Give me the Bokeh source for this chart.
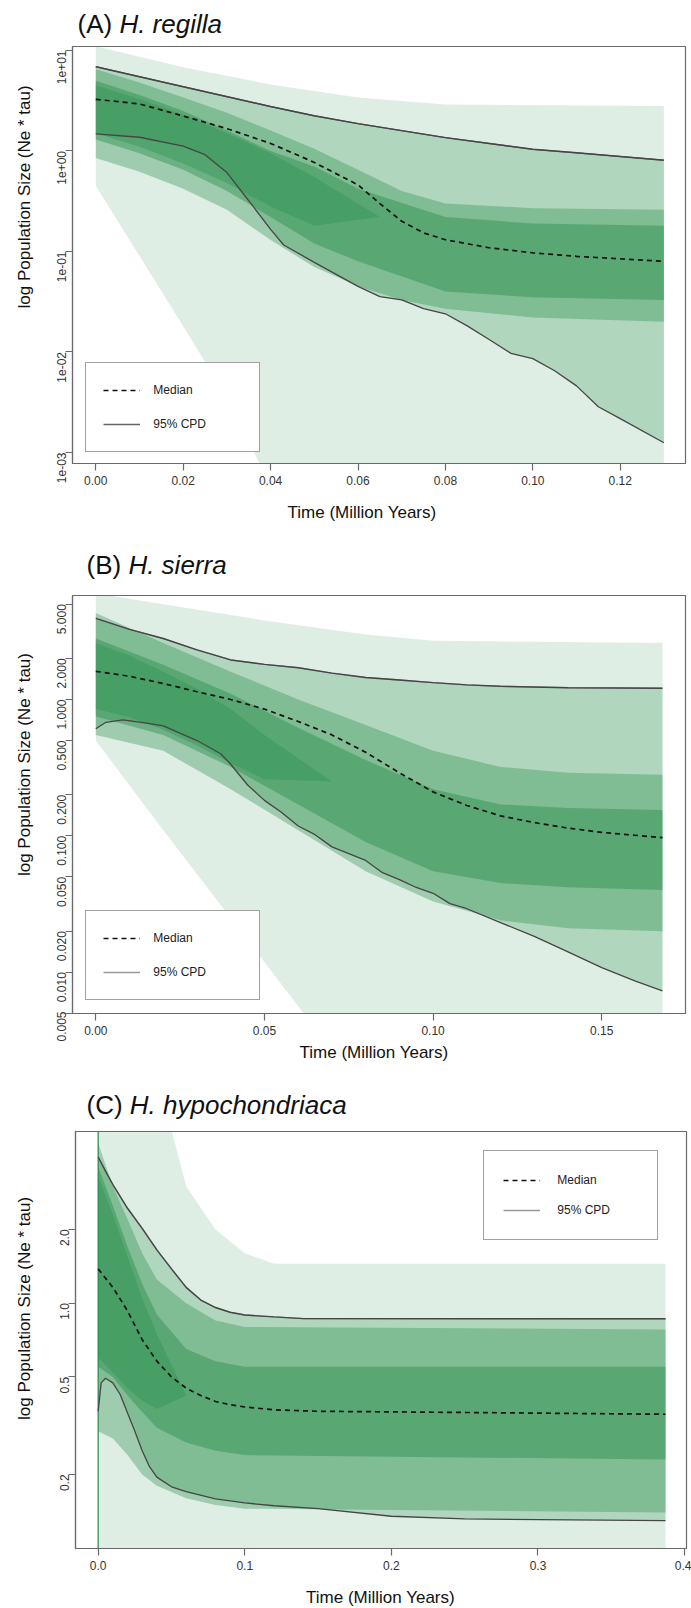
import math
from bokeh.plotting import figure
from bokeh.models import FixedTicker, Range1d, Legend, LegendItem
from bokeh.layouts import column, row
from bokeh.embed import file_html
from bokeh.resources import INLINE
from bokeh.core.properties import value

# ---------------- data ----------------
# Panel A: H. regilla
A_med_t = [0, 0.01, 0.02, 0.03, 0.04, 0.05, 0.06, 0.065, 0.07, 0.075, 0.08, 0.09, 0.10, 0.11, 0.13]
A_med_v = [3.27, 2.94, 2.23, 1.67, 1.19, 0.77, 0.46, 0.30, 0.20, 0.153, 0.131, 0.109, 0.097, 0.0895, 0.080]
A_hi_t = [0, 0.02, 0.04, 0.05, 0.06, 0.08, 0.10, 0.11, 0.13]
A_hi_v = [6.9, 4.36, 2.77, 2.24, 1.87, 1.36, 1.04, 0.96, 0.81]
A_lo_t = [0, 0.01, 0.02, 0.025, 0.03, 0.035, 0.04, 0.043, 0.05, 0.06, 0.065, 0.07, 0.075, 0.08,
          0.085, 0.09, 0.095, 0.10, 0.105, 0.11, 0.115, 0.12, 0.13]
A_lo_v = [1.48, 1.37, 1.12, 0.92, 0.61, 0.32, 0.166, 0.116, 0.078, 0.045, 0.0356, 0.033, 0.027, 0.024,
          0.0182, 0.0133, 0.0097, 0.0086, 0.0065, 0.0046, 0.00285, 0.00217, 0.00125]
A_out_hi_t = [0, 0.02, 0.04, 0.06, 0.08, 0.13]
A_out_hi_v = [11.0, 6.8, 4.6, 3.4, 2.9, 2.8]
A_out_lo_t = [0, 0.01, 0.02, 0.03, 0.038, 0.13]
A_out_lo_v = [0.45, 0.09, 0.018, 0.0035, 0.0007, 0.0007]
A_core_t = [0, 0.01, 0.02, 0.03, 0.04, 0.05, 0.06, 0.07, 0.08, 0.10, 0.13]
A_core_hi = [6.5, 4.8, 3.4, 2.4, 1.6, 1.05, 0.65, 0.40, 0.30, 0.27, 0.26]
A_core_lo = [0.85, 0.62, 0.42, 0.26, 0.13, 0.07, 0.045, 0.033, 0.027, 0.022, 0.020]
A_inner_t = [0, 0.01, 0.02, 0.03, 0.04, 0.05, 0.06, 0.08, 0.10, 0.13]
A_inner_hi = [5.0, 3.6, 2.5, 1.6, 1.0, 0.70, 0.42, 0.22, 0.19, 0.18]
A_inner_lo = [1.3, 0.95, 0.65, 0.40, 0.22, 0.12, 0.08, 0.04, 0.035, 0.033]
A_peak_t = [0, 0.01, 0.02, 0.03, 0.04, 0.05, 0.065]
A_peak_hi = [4.5, 3.3, 2.3, 1.5, 0.95, 0.55, 0.22]
A_peak_lo = [1.5, 1.1, 0.75, 0.48, 0.28, 0.18, 0.22]

# Panel B: H. sierra
B_med_t = [0, 0.01, 0.02, 0.03, 0.04, 0.05, 0.06, 0.07, 0.08, 0.09, 0.10, 0.11, 0.12, 0.13, 0.14, 0.15, 0.168]
B_med_v = [1.61, 1.48, 1.31, 1.14, 1.0, 0.85, 0.69, 0.55, 0.41, 0.29, 0.21, 0.167, 0.14, 0.125, 0.114, 0.106, 0.097]
B_hi_t = [0, 0.01, 0.02, 0.03, 0.04, 0.05, 0.06, 0.07, 0.08, 0.09, 0.10, 0.11, 0.12, 0.14, 0.168]
B_hi_v = [3.94, 3.27, 2.80, 2.31, 1.95, 1.81, 1.71, 1.56, 1.45, 1.39, 1.33, 1.28, 1.25, 1.22, 1.21]
B_lo_t = [0, 0.003, 0.008, 0.015, 0.02, 0.03, 0.037, 0.04, 0.045, 0.05, 0.055, 0.06, 0.065, 0.07, 0.08,
          0.085, 0.09, 0.095, 0.10, 0.105, 0.11, 0.12, 0.13, 0.14, 0.15, 0.16, 0.168]
B_lo_v = [0.61, 0.68, 0.71, 0.67, 0.64, 0.50, 0.40, 0.335, 0.236, 0.182, 0.149, 0.118, 0.102, 0.083, 0.066,
          0.0537, 0.0478, 0.0418, 0.0379, 0.0318, 0.0292, 0.0231, 0.0183, 0.0141, 0.0108, 0.0086, 0.0073]
B_out_hi_t = [0, 0.02, 0.05, 0.08, 0.10, 0.168]
B_out_hi_v = [6.0, 5.0, 3.8, 3.0, 2.7, 2.6]
B_out_lo_t = [0, 0.02, 0.04, 0.063, 0.168]
B_out_lo_v = [0.5, 0.11, 0.025, 0.0045, 0.0045]
B_core_t = [0, 0.02, 0.04, 0.06, 0.08, 0.10, 0.12, 0.14, 0.168]
B_core_hi = [4.3, 2.6, 1.6, 1.0, 0.65, 0.42, 0.32, 0.29, 0.28]
B_core_lo = [0.55, 0.42, 0.22, 0.11, 0.055, 0.033, 0.024, 0.021, 0.020]
B_inner_hi = [2.8, 1.8, 1.1, 0.62, 0.36, 0.22, 0.17, 0.16, 0.155]
B_inner_lo = [0.75, 0.55, 0.32, 0.17, 0.09, 0.055, 0.045, 0.042, 0.040]
B_peak_t = [0, 0.01, 0.02, 0.03, 0.04, 0.05, 0.07]
B_peak_hi = [2.6, 2.1, 1.6, 1.2, 0.85, 0.55, 0.25]
B_peak_lo = [0.85, 0.74, 0.6, 0.46, 0.34, 0.26, 0.25]

# Panel C: H. hypochondriaca
C_med_t = [0, 0.01, 0.02, 0.03, 0.04, 0.05, 0.06, 0.07, 0.08, 0.09, 0.10, 0.12, 0.15, 0.25, 0.387]
C_med_v = [1.38, 1.16, 0.93, 0.71, 0.58, 0.50, 0.45, 0.42, 0.397, 0.385, 0.377, 0.367, 0.362, 0.358, 0.352]
C_hi_t = [0, 0.005, 0.01, 0.02, 0.03, 0.04, 0.05, 0.06, 0.07, 0.08, 0.09, 0.10, 0.12, 0.14, 0.387]
C_hi_v = [3.95, 3.46, 3.05, 2.44, 2.02, 1.65, 1.38, 1.16, 1.03, 0.96, 0.918, 0.895, 0.879, 0.865, 0.864]
C_lo_t = [0, 0.002, 0.005, 0.01, 0.015, 0.02, 0.025, 0.03, 0.035, 0.04, 0.05, 0.06, 0.08, 0.10, 0.12,
          0.15, 0.2, 0.25, 0.387]
C_lo_v = [0.362, 0.473, 0.494, 0.473, 0.424, 0.356, 0.30, 0.25, 0.215, 0.195, 0.178, 0.17, 0.159, 0.153,
          0.149, 0.145, 0.135, 0.1316, 0.1296]
C_out_hi_t = [0, 0.05, 0.06, 0.08, 0.10, 0.12, 0.387]
C_out_hi_v = [5.1, 5.1, 3.0, 2.0, 1.6, 1.45, 1.45]
C_out_lo_t = [0, 0.387]
C_out_lo_v = [0.095, 0.095]
C_core_t = [0, 0.01, 0.02, 0.03, 0.04, 0.06, 0.08, 0.10, 0.387]
C_core_hi = [4.5, 3.0, 2.2, 1.6, 1.25, 1.0, 0.85, 0.80, 0.78]
C_core_lo = [0.30, 0.28, 0.24, 0.20, 0.18, 0.16, 0.15, 0.145, 0.14]
C_inner_hi = [3.6, 2.5, 1.7, 1.2, 0.9, 0.65, 0.58, 0.55, 0.55]
C_inner_lo = [0.55, 0.50, 0.42, 0.36, 0.31, 0.27, 0.25, 0.24, 0.23]
C_peak_t = [0, 0.01, 0.02, 0.03, 0.04, 0.06]
C_peak_hi = [3.3, 2.3, 1.55, 1.05, 0.75, 0.42]
C_peak_lo = [0.6, 0.52, 0.45, 0.4, 0.37, 0.42]
C_start_t = [0, 0]
C_start_v = [0.09, 5.2]

A_xticks = [0.0, 0.02, 0.04, 0.06, 0.08, 0.10, 0.12]
A_xlabels = ["0.00", "0.02", "0.04", "0.06", "0.08", "0.10", "0.12"]
A_yticks = [0.001, 0.01, 0.1, 1.0, 10.0]
A_ylabels = ["1e-03", "1e-02", "1e-01", "1e+00", "1e+01"]
B_xticks = [0.0, 0.05, 0.10, 0.15]
B_xlabels = ["0.00", "0.05", "0.10", "0.15"]
B_yticks = [0.005, 0.01, 0.02, 0.05, 0.1, 0.2, 0.5, 1.0, 2.0, 5.0]
B_ylabels = ["0.005", "0.010", "0.020", "0.050", "0.100", "0.200", "0.500", "1.000", "2.000", "5.000"]
C_xticks = [0.0, 0.1, 0.2, 0.3, 0.4]
C_xlabels = ["0.0", "0.1", "0.2", "0.3", "0.4"]
C_yticks = [0.2, 0.5, 1.0, 2.0]
C_ylabels = ["0.2", "0.5", "1.0", "2.0"]

FONT = "Liberation Sans"
GREEN = "#1f8a43"
W = 691
YLAB_W = 40


def poly(t_hi, v_hi, t_lo, v_lo):
    return list(t_hi) + list(t_lo)[::-1], list(v_hi) + list(v_lo)[::-1]


def strip(w, h, texts):
    """A bare figure whose frame is the whole canvas, used only to hold texts."""
    s = figure(width=w, height=h, x_range=Range1d(0, w), y_range=Range1d(0, h),
               x_axis_type=None, y_axis_type=None, output_backend="svg",
               toolbar_location=None, title=None, min_border=0,
               min_border_left=0, min_border_right=0, min_border_top=0, min_border_bottom=0)
    s.outline_line_color = None
    s.xgrid.visible = False
    s.ygrid.visible = False
    s.background_fill_color = "white"
    s.border_fill_color = "white"
    for t in texts:
        s.text(x=[t["x"]], y=[t["y"]], text=[t["text"]], text_font=value(FONT),
               text_font_size=value(t["size"]), text_font_style=t.get("style", "normal"),
               text_align=t.get("align", "left"), text_baseline="middle",
               angle=t.get("angle", 0), text_color="#111111")
    return s


def make_main(cfg):
    p = figure(width=W - YLAB_W, height=cfg["h_main"], y_axis_type="log",
               x_range=Range1d(*cfg["xr"]), y_range=Range1d(*cfg["yr"]),
               output_backend="svg", toolbar_location=None, title=None,
               min_border_left=cfg["ml"], min_border_right=cfg["mr"],
               min_border_top=4, min_border_bottom=28)
    p.background_fill_color = "white"
    p.border_fill_color = "white"
    p.xgrid.visible = False
    p.ygrid.visible = False
    p.outline_line_color = "#6a6a6a"
    p.outline_line_width = 1.2

    for (th, vh, tl, vl, a) in cfg["bands"]:
        xs, ys = poly(th, vh, tl, vl)
        p.patch(xs, ys, fill_color=GREEN, fill_alpha=a, line_color=None)
    if "start" in cfg:
        p.line(cfg["start"][0], cfg["start"][1], line_color=GREEN, line_width=1.5, line_alpha=0.8)

    # light copy of the CPD line (only its legend sample is seen), then the dark lines
    r_cpd_leg = p.line(cfg["hi"][0], cfg["hi"][1], line_color=cfg["leg_cpd_color"], line_width=1.3)
    p.line(cfg["hi"][0], cfg["hi"][1], line_color="#454545", line_width=1.4)
    p.line(cfg["lo"][0], cfg["lo"][1], line_color="#454545", line_width=1.3)
    r_med = p.line(cfg["med"][0], cfg["med"][1], line_color="#111111", line_width=1.7, line_dash="5 4")

    p.xaxis.ticker = FixedTicker(ticks=cfg["xticks"])
    p.xaxis.major_label_overrides = dict(zip(cfg["xticks"], cfg["xlabels"]))
    p.yaxis.ticker = FixedTicker(ticks=cfg["yticks"])
    p.yaxis.major_label_overrides = dict(zip(cfg["yticks"], cfg["ylabels"]))
    p.yaxis.major_label_orientation = math.pi / 2
    for ax in (p.xaxis, p.yaxis):
        ax.minor_tick_line_color = None
        ax.major_tick_in = 0
        ax.major_tick_out = 7
        ax.axis_line_color = "#6a6a6a"
        ax.axis_line_width = 1.2
        ax.major_tick_line_color = "#6a6a6a"
        ax.major_tick_line_width = 1.2
        ax.major_label_text_font = FONT
        ax.major_label_text_font_size = "12px"
        ax.major_label_text_color = "#333333"
    p.xaxis.major_label_standoff = 5
    p.yaxis.major_label_standoff = 4

    lg = cfg["leg"]
    legend = Legend(items=[LegendItem(label="Median", renderers=[r_med]),
                           LegendItem(label="95% CPD", renderers=[r_cpd_leg])],
                    location=lg["loc"], orientation="vertical", margin=0,
                    padding=lg["pad"], spacing=lg["sp"], glyph_width=37, glyph_height=20,
                    label_height=20, label_width=lg["lw"], label_standoff=lg["ls"],
                    border_line_color="#444444", border_line_width=1.2,
                    background_fill_color="white", background_fill_alpha=1.0,
                    label_text_font=FONT, label_text_font_size="12px",
                    label_text_color="#222222")
    p.add_layout(legend)
    return p


def make_panel(cfg):
    top = cfg["top"]
    h_title = cfg["frame_top"] - 4 - top
    main_top = top + h_title
    main_bottom = cfg["frame_bottom"] + 28
    cfg["h_main"] = main_bottom - main_top
    h_xlab = cfg["bottom"] - main_bottom

    title = strip(W, h_title, [
        dict(x=cfg["title_x"], y=main_top - cfg["title_y"], text=cfg["tag"], size="26px"),
        dict(x=cfg["title_x2"], y=main_top - cfg["title_y"], text=cfg["species"], size="26px",
             style="italic"),
    ])
    ylab = strip(YLAB_W, cfg["h_main"], [
        dict(x=24, y=main_bottom - cfg["ylab_y"], text="log Population Size (Ne * tau)",
             size="17px", align="center", angle=math.pi / 2),
    ])
    xlab = strip(W, h_xlab, [
        dict(x=cfg["xlab_x"], y=cfg["bottom"] - cfg["xlab_y"], text="Time (Million Years)",
             size="17px", align="center"),
    ])
    main = make_main(cfg)
    return column(title, row(ylab, main, spacing=0), xlab, spacing=0)


cfgA = dict(top=0, bottom=530, frame_top=46, frame_bottom=463, ml=32, mr=6,
            xr=(-0.00533, 0.13494), yr=(10 ** -3.1095, 10 ** 1.0398),
            bands=[(A_out_hi_t, A_out_hi_v, A_out_lo_t, A_out_lo_v, 0.14),
                   (A_hi_t, A_hi_v, A_lo_t, A_lo_v, 0.24),
                   (A_core_t, A_core_hi, A_core_t, A_core_lo, 0.33),
                   (A_inner_t, A_inner_hi, A_inner_t, A_inner_lo, 0.40),
                   (A_peak_t, A_peak_hi, A_peak_t, A_peak_lo, 0.30)],
            hi=(A_hi_t, A_hi_v), lo=(A_lo_t, A_lo_v), med=(A_med_t, A_med_v),
            xticks=A_xticks, xlabels=A_xlabels, yticks=A_yticks, ylabels=A_ylabels,
            leg_cpd_color="#666666",
            leg=dict(loc=(13.3, 11.3), pad=17, sp=14, lw=89, ls=13),
            tag="(A)", species="H. regilla", title_x=77, title_x2=118.9, title_y=23.5,
            ylab_y=204, xlab_x=361.5, xlab_y=512)

cfgB = dict(top=530, bottom=1072, frame_top=595, frame_bottom=1013, ml=32, mr=6,
            xr=(-0.00691, 0.17483), yr=(0.004977, 5.79),
            bands=[(B_out_hi_t, B_out_hi_v, B_out_lo_t, B_out_lo_v, 0.14),
                   (B_hi_t, B_hi_v, B_lo_t, B_lo_v, 0.24),
                   (B_core_t, B_core_hi, B_core_t, B_core_lo, 0.33),
                   (B_core_t, B_inner_hi, B_core_t, B_inner_lo, 0.40),
                   (B_peak_t, B_peak_hi, B_peak_t, B_peak_lo, 0.30)],
            hi=(B_hi_t, B_hi_v), lo=(B_lo_t, B_lo_v), med=(B_med_t, B_med_v),
            xticks=B_xticks, xlabels=B_xlabels, yticks=B_yticks, ylabels=B_ylabels,
            leg_cpd_color="#999999",
            leg=dict(loc=(13.3, 13), pad=17, sp=14, lw=89, ls=13),
            tag="(B)", species="H. sierra", title_x=86, title_x2=127.9, title_y=564,
            ylab_y=773, xlab_x=373.5, xlab_y=1052)

cfgC = dict(top=1072, bottom=1608, frame_top=1131, frame_bottom=1548, ml=35, mr=5,
            xr=(-0.01548, 0.4013), yr=(0.0997, 5.02),
            bands=[(C_out_hi_t, C_out_hi_v, C_out_lo_t, C_out_lo_v, 0.14),
                   (C_hi_t, C_hi_v, C_lo_t, C_lo_v, 0.24),
                   (C_core_t, C_core_hi, C_core_t, C_core_lo, 0.33),
                   (C_core_t, C_inner_hi, C_core_t, C_inner_lo, 0.40),
                   (C_peak_t, C_peak_hi, C_peak_t, C_peak_lo, 0.30)],
            start=(C_start_t, C_start_v),
            hi=(C_hi_t, C_hi_v), lo=(C_lo_t, C_lo_v), med=(C_med_t, C_med_v),
            xticks=C_xticks, xlabels=C_xlabels, yticks=C_yticks, ylabels=C_ylabels,
            leg_cpd_color="#999999",
            leg=dict(loc=(408.3, 308), pad=19, sp=10, lw=81, ls=17),
            tag="(C)", species="H. hypochondriaca", title_x=86, title_x2=129.3, title_y=1104,
            ylab_y=1317.5, xlab_x=380, xlab_y=1597)

layout = column(make_panel(cfgA), make_panel(cfgB), make_panel(cfgC), spacing=0)
open("out.html", "w").write(file_html(layout, INLINE))
